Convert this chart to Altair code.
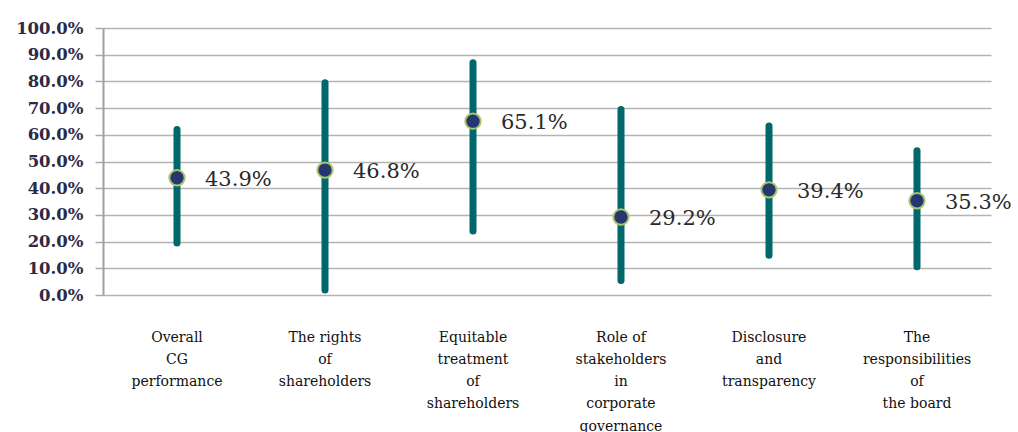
import altair as alt
import pandas as pd

categories = [
    "Overall\nCG\nperformance",
    "The rights\nof\nshareholders",
    "Equitable\ntreatment\nof\nshareholders",
    "Role of\nstakeholders\nin\ncorporate\ngovernance",
    "Disclosure\nand\ntransparency",
    "The\nresponsibilities\nof\nthe board",
]
means = [43.9, 46.8, 65.1, 29.2, 39.4, 35.3]
highs = [62.0, 79.5, 87.0, 69.5, 63.3, 54.0]
lows = [19.5, 1.9, 24.0, 5.4, 14.9, 10.6]

SERIF = "DejaVu Serif"

df = pd.DataFrame({
    "cat": categories,
    "mean": [m / 100 for m in means],
    "high": [h / 100 for h in highs],
    "low": [l / 100 for l in lows],
    "label": [f"{m:.1f}%" for m in means],
})

xaxis = alt.Axis(
    title=None,
    labelAngle=0,
    labelExpr="split(datum.label, '\\n')",
    labelFont=SERIF,
    labelFontSize=14,
    labelLineHeight=22.3,
    labelColor="#111111",
    labelPadding=35,
    labelBaseline="top",
    labelOverlap=False,
    ticks=False,
    domain=False,
    grid=False,
    labelLimit=200,
)
xenc = alt.X("cat:N", sort=categories,
             scale=alt.Scale(paddingInner=0, paddingOuter=0), axis=xaxis)

yscale = alt.Scale(domain=[0, 1], nice=False, zero=True)
yaxis = alt.Axis(
    title=None,
    format=".1%",
    values=[0, 0.1, 0.2, 0.3, 0.4, 0.5, 0.6, 0.7, 0.8, 0.9, 1.0],
    labelOverlap=False,
    labelFont=SERIF,
    labelFontWeight="bold",
    labelFontSize=16.5,
    labelColor="#2d2a48",
    labelPadding=12,
    tickSize=8,
    tickColor="#aaaaaa",
    tickWidth=1.5,
    grid=True,
    gridColor="#b4b4b4",
    gridWidth=1.5,
    domainColor="#a0a0a0",
    domainWidth=2,
)

rules = alt.Chart(df).mark_rule(
    strokeWidth=7, strokeCap="round", color="#00676a"
).encode(
    x=xenc,
    y=alt.Y("low:Q", scale=yscale, axis=yaxis),
    y2="high:Q",
)

points = alt.Chart(df).mark_point(
    shape="circle", filled=True, size=235, fill="#253670",
    stroke="#a9c66a", strokeWidth=2, opacity=1,
).encode(x=xenc, y=alt.Y("mean:Q", scale=yscale, axis=yaxis))

labels = alt.Chart(df).mark_text(
    align="left", baseline="middle", dx=28, dy=2,
    font=SERIF, fontSize=21, color="#2a2a2a",
).encode(x=xenc, y=alt.Y("mean:Q", scale=yscale, axis=yaxis), text="label:N")

chart = alt.layer(rules, points, labels).properties(
    width=888,
    height=267,
    autosize=alt.AutoSizeParams(type="none"),
    padding={"left": 103, "top": 28, "right": 27, "bottom": 137},
    background="white",
).configure_view(stroke=None)

chart.save("out.html", embed_options={"renderer": "svg", "actions": False})
